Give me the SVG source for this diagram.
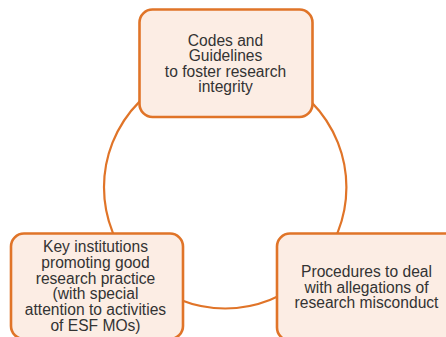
<svg xmlns="http://www.w3.org/2000/svg" width="446" height="337" viewBox="0 0 446 337">
<style>
.box{fill:#FCEDE4;stroke:#E07428;stroke-width:2.6}
.ring{fill:none;stroke:#E07428;stroke-width:2.2}
.t{font-family:"Liberation Sans",Arial,sans-serif;font-size:15.6px;fill:#333333;text-anchor:middle}
</style>
<rect width="446" height="337" fill="#ffffff"/>
<g id="connectors">
<circle class="ring" cx="225.2" cy="187.3" r="121.2"/>
</g>
<g id="codes">
<rect class="box" x="139.5" y="9.5" width="173" height="107.5" rx="13"/>
<text class="t" x="225.5" y="45.7">Codes and</text>
<text class="t" x="225.5" y="61.2">Guidelines</text>
<text class="t" x="225.5" y="76.8">to foster research</text>
<text class="t" x="225.5" y="92.3">integrity</text>
</g>
<g id="institutions">
<rect class="box" x="11" y="233.5" width="172" height="105.5" rx="13"/>
<text class="t" x="95.5" y="252.3">Key institutions</text>
<text class="t" x="95.5" y="268">promoting good</text>
<text class="t" x="95.5" y="283.7">research practice</text>
<text class="t" x="95.5" y="299.4">(with special</text>
<text class="t" x="95.5" y="315.1">attention to activities</text>
<text class="t" x="95.5" y="330.8">of ESF MOs)</text>
</g>
<g id="procedures">
<rect class="box" x="277" y="233.5" width="182" height="107" rx="13"/>
<text class="t" x="366.5" y="276.7">Procedures to deal</text>
<text class="t" x="366.5" y="292.5">with allegations of</text>
<text class="t" x="366.5" y="308.3">research misconduct</text>
</g>
</svg>
